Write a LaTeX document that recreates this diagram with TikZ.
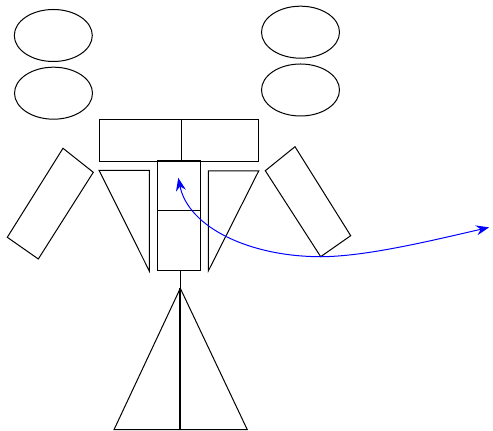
\documentclass[tikz,border=0pt]{standalone}
\usetikzlibrary{shapes.geometric, arrows.meta, positioning, calc}

\begin{document}
\begin{tikzpicture}[
  x=0.5pt, y=-0.5pt,
  part/.style  = {draw, line width=0.5pt, line join=miter},
  blob/.style  = {draw, ellipse, minimum width=39pt, minimum height=26pt,
                  inner sep=0pt, line width=0.5pt},
  cell/.style  = {draw, rectangle, inner sep=0pt, line width=0.5pt},
  link/.style  = {draw=blue, line width=0.5pt,
                  >={Stealth[length=6.5pt, width=5pt, inset=2.2pt, sep=2pt]}, <->},
]
\useasboundingbox (0,0) rectangle (493,431);

%% Ellipses
\node[blob] (eyeLa) at (53.3, 35.5) {};
\node[blob] (eyeLb) at (53.5, 93.2) {};
\node[blob] (eyeRa) at (300.5, 32.2) {};
\node[blob] (eyeRb) at (300.5, 90.0) {};

%% Top bar
\node[cell, minimum width=41.15pt, minimum height=21.2pt] (barL) at (140.15, 140.5) {};
\node[cell, minimum width=38.7pt,  minimum height=21.2pt] (barR) at (220.0, 140.5) {};

%% Column
\node[cell, minimum width=21.15pt, minimum height=25.15pt] (colTop) at (178.85, 185.85) {};
\node[cell, minimum width=21.15pt, minimum height=29.85pt] (colBot) at (178.85, 240.85) {};

%% Side triangles
\draw[part] (99,170.3) -- (149.3,170.3) -- (149.3,271) -- cycle;
\draw[part] (208.3,171) -- (258.7,171) -- (208.3,271) -- cycle;

%% Tilted boxes
\draw[part] (63,148.3) -- (93.3,172.3) -- (38.3,259) -- (7.3,237.3) -- cycle;
\draw[part] (295,146.7) -- (350.7,235.7) -- (320.7,256.7) -- (265.3,170.7) -- cycle;
\coordinate (wristR) at (320.7,256.7);

%% Lower triangle and stem
\coordinate (apex) at (180.3,288.3);
\coordinate (foot) at (180.3,429.7);
\draw[part] (apex) -- (114,429.7) -- (247.3,429.7) -- cycle;
\draw[part] (180.3,270.7) -- (apex);
\draw[part, line width=0.9pt] (apex) -- (foot);

%% Blue curve
\coordinate (tip) at (177.5,174);
\coordinate (away) at (493,226.5);
\draw[link] (tip) .. controls (188.5,228) and (250.7,256.7) .. (wristR)
            .. controls (365,256.7) and (430,241) .. (away);

\end{tikzpicture}
\end{document}
